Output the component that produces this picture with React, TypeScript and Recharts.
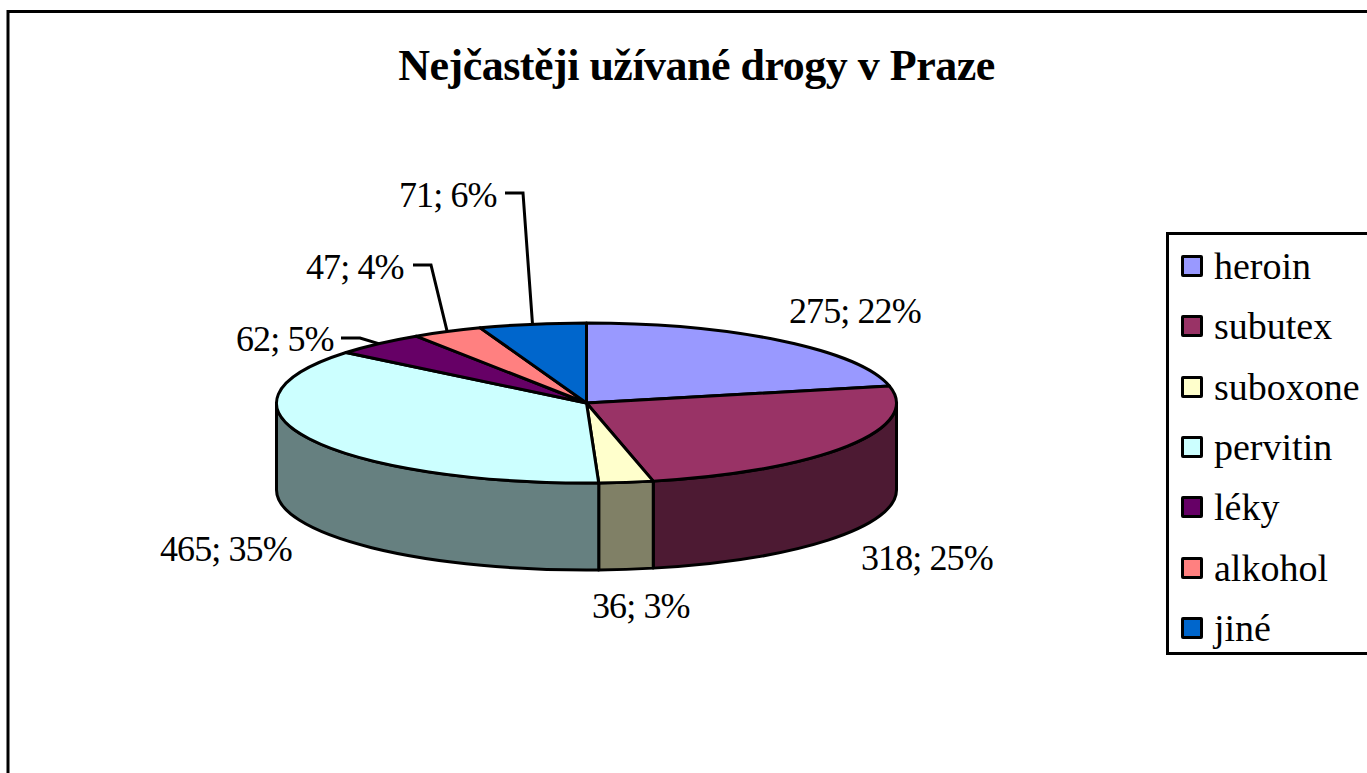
import { PieChart, Pie, Legend } from "recharts"

const categories = ["heroin", "subutex", "suboxone", "pervitin", "léky", "alkohol", "jiné"]
const counts = [275, 318, 36, 465, 62, 47, 71]
const percentLabels = [22, 25, 3, 35, 5, 4, 6]
const topColors = ["#9999FF", "#993366", "#FFFFCC", "#CCFFFF", "#660066", "#FF8080", "#0066CC"]
const wallColors = ["#4D4D80", "#4D1A33", "#808066", "#668080", "#330033", "#804040", "#003366"]

const chartTitle = "Nejčastěji užívané drogy v Praze"

const FONT = '"Liberation Serif", "Times New Roman", serif'
const WIDTH = 1367
const HEIGHT = 773

// the tilted pie: Recharts works out the angles, the shapes squash them to an ellipse
const CX = 586.5
const CY = 403
const RX = 310
const RY = 80
const DEPTH = 87

// where each data label sits, and the elbow of its leader line if it has one
const labelSpots = [
  { x: 789, y: 323 },
  { x: 861, y: 570 },
  { x: 592, y: 618 },
  { x: 160, y: 561 },
  { x: 236, y: 351, elbow: [[341, 338], [360, 338]] },
  { x: 306, y: 279, elbow: [[413, 265], [431, 265]] },
  { x: 399, y: 207, elbow: [[505, 193], [523, 193]] },
]

const topData = categories.map((name, i) => ({ name, value: counts[i], fill: topColors[i] }))
const wallData = categories.map((name, i) => ({ name, value: counts[i], fill: wallColors[i] }))

const rad = (deg: number) => (deg * Math.PI) / 180
const ellipseX = (deg: number) => CX + RX * Math.cos(rad(deg))
const ellipseY = (deg: number) => CY - RY * Math.sin(rad(deg))

function TopSlice(props: any) {
  const { startAngle, endAngle, fill } = props
  const large = Math.abs(startAngle - endAngle) > 180 ? 1 : 0
  const d = `M${CX},${CY} L${ellipseX(startAngle)},${ellipseY(startAngle)} A${RX},${RY} 0 ${large} 1 ${ellipseX(endAngle)},${ellipseY(endAngle)} Z`
  return <path d={d} fill={fill} stroke="#000" strokeWidth={3} strokeLinejoin="round" />
}

// only the front half of the rim shows, so clamp the slice to 0..-180
function WallSlice(props: any) {
  const { startAngle, endAngle, fill } = props
  const a = Math.min(startAngle, 0)
  const b = Math.max(endAngle, -180)
  if (a <= b) return null
  const x1 = ellipseX(a)
  const y1 = ellipseY(a)
  const x2 = ellipseX(b)
  const y2 = ellipseY(b)
  const d = `M${x1},${y1} A${RX},${RY} 0 0 1 ${x2},${y2} L${x2},${y2 + DEPTH} A${RX},${RY} 0 0 0 ${x1},${y1 + DEPTH} Z`
  return <path d={d} fill={fill} stroke="#000" strokeWidth={3} strokeLinejoin="round" />
}

function SliceLabel(props: any) {
  const { index, midAngle } = props
  const spot = labelSpots[index]
  let leader = null
  if (spot.elbow) {
    const pts = [...spot.elbow, [ellipseX(midAngle), ellipseY(midAngle)]]
    leader = <polyline points={pts.map((p) => p.join(",")).join(" ")} fill="none" stroke="#000" strokeWidth={3} />
  }
  return (
    <g>
      {leader}
      <text x={spot.x} y={spot.y} fontFamily={FONT} fontSize={36} letterSpacing={-0.9} fill="#000">
        {`${counts[index]}; ${percentLabels[index]}%`}
      </text>
    </g>
  )
}

function LegendBox(props: any) {
  // the wall pie also reports entries, keep only the top slices
  const items = (props.payload || []).filter((item: any) => topColors.includes(item.color))
  return (
    <div
      style={{
        boxSizing: "border-box",
        width: 220,
        height: 423,
        border: "3px solid #000",
        background: "#fff",
        paddingLeft: 12,
        paddingTop: 1,
        fontFamily: FONT,
        fontSize: 38,
        color: "#000",
      }}
    >
      {items.map((item: any) => (
        <div key={item.value} style={{ display: "flex", alignItems: "center", height: 60.3 }}>
          <span
            style={{
              boxSizing: "border-box",
              width: 22,
              height: 22,
              marginRight: 11,
              border: "3px solid #000",
              borderRadius: 2,
              background: item.color,
            }}
          />
          <span>{item.value}</span>
        </div>
      ))}
    </div>
  )
}

export default function App() {
  return (
    <div style={{ position: "absolute", left: 0, top: 0, width: WIDTH, height: HEIGHT, overflow: "hidden", background: "#fff" }}>
      <PieChart width={WIDTH} height={HEIGHT} margin={{ top: 0, right: 0, bottom: 0, left: 0 }}>
        {/* chart area border, runs off the right and bottom of the picture */}
        <path d={`M8,${HEIGHT + 5} L8,11.5 L${WIDTH + 5},11.5`} fill="none" stroke="#000" strokeWidth={3} />
        <text x={696.5} y={79.5} textAnchor="middle" fontFamily={FONT} fontSize={44} fontWeight="bold" letterSpacing={-0.5} fill="#000">
          {chartTitle}
        </text>
        <Pie
          data={wallData}
          dataKey="value"
          nameKey="name"
          cx={CX}
          cy={CY}
          outerRadius={RX}
          startAngle={90}
          endAngle={-270}
          legendType="none"
          shape={WallSlice}
          label={false}
          labelLine={false}
          isAnimationActive={false}
        />
        <Pie
          data={topData}
          dataKey="value"
          nameKey="name"
          cx={CX}
          cy={CY}
          outerRadius={RX}
          startAngle={90}
          endAngle={-270}
          shape={TopSlice}
          label={SliceLabel}
          labelLine={false}
          isAnimationActive={false}
        />
        <Legend
          layout="vertical"
          align="left"
          verticalAlign="top"
          itemSorter={null}
          content={LegendBox}
          wrapperStyle={{ position: "absolute", left: 1166, top: 232, width: 220 }}
        />
      </PieChart>
    </div>
  )
}
